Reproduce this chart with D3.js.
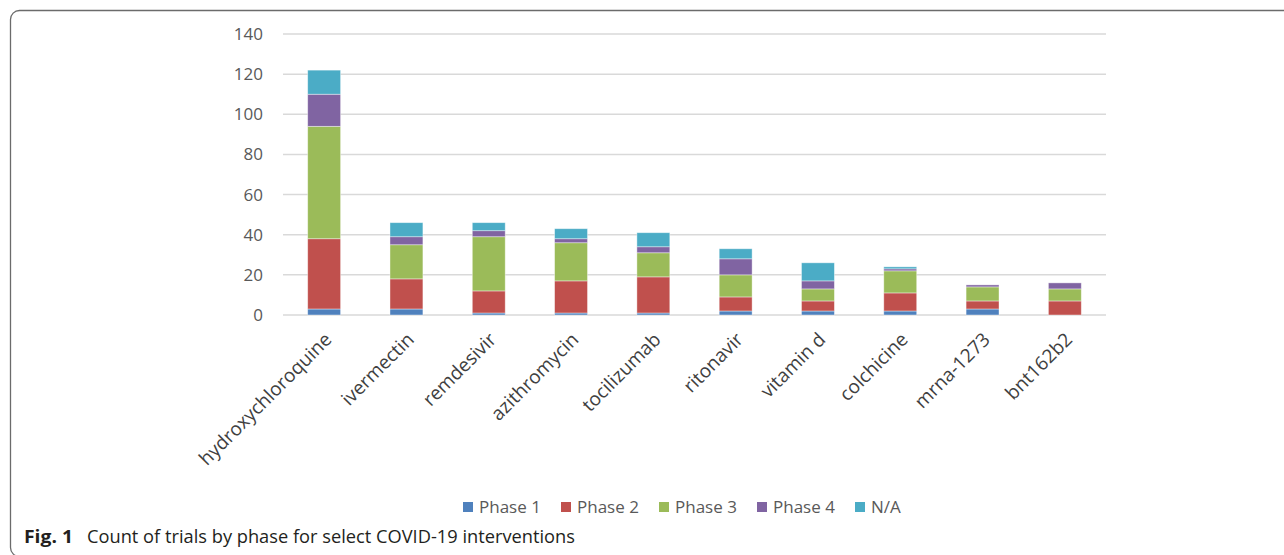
<!DOCTYPE html>
<html>
<head>
<meta charset="utf-8">
<script src="https://cdn.jsdelivr.net/npm/d3@7"></script>
<style>
  body { margin: 0; background: #fff; }
  svg { display: block; font-family: "Open Sans", "Noto Sans", sans-serif; }
</style>
</head>
<body>
<div id="holder"></div>
<script>
const w = 1284;
const h = 555;

// Data
const drugs = ["hydroxychloroquine", "ivermectin", "remdesivir", "azithromycin", "tocilizumab",
  "ritonavir", "vitamin d", "colchicine", "mrna-1273", "bnt162b2"];
const phases = ["Phase 1", "Phase 2", "Phase 3", "Phase 4", "N/A"];
const phase1 = [3, 3, 1, 1, 1, 2, 2, 2, 3, 0];
const phase2 = [35, 15, 11, 16, 18, 7, 5, 9, 4, 7];
const phase3 = [56, 17, 27, 19, 12, 11, 6, 11, 7, 6];
const phase4 = [16, 4, 3, 2, 3, 8, 4, 1, 1, 3];
const na = [12, 7, 4, 5, 7, 5, 9, 1, 0, 0];
const yTicks = [0, 20, 40, 60, 80, 100, 120, 140];

const colors = ["#4f81bd", "#c0504d", "#9bbb59", "#8064a2", "#4bacc6"];

const rows = drugs.map((d, i) => ({
  drug: d,
  "Phase 1": phase1[i],
  "Phase 2": phase2[i],
  "Phase 3": phase3[i],
  "Phase 4": phase4[i],
  "N/A": na[i]
}));

const svg = d3.select("#holder")
  .append("svg")
  .attr("width", w)
  .attr("height", h);

// frame around the figure
svg.append("rect")
  .attr("x", 10.5)
  .attr("y", 10.5)
  .attr("width", 1400)
  .attr("height", 546)
  .attr("rx", 9)
  .attr("fill", "none")
  .attr("stroke", "#6b6b6b")
  .attr("stroke-width", 1.3);

const x = d3.scaleBand()
  .domain(drugs)
  .range([283, 1106])
  .paddingInner(0.6)
  .paddingOuter(0.3);

const y = d3.scaleLinear()
  .domain([0, 140])
  .range([315, 34]);

// gridlines
svg.append("g")
  .selectAll("line")
  .data(yTicks)
  .join("line")
  .attr("x1", 283)
  .attr("x2", 1106)
  .attr("y1", d => y(d))
  .attr("y2", d => y(d))
  .attr("stroke", "#d9d9d9")
  .attr("stroke-width", 1.5);

// y axis labels
const yAxis = d3.axisLeft(y).tickValues(yTicks).tickSize(0).tickPadding(20);
svg.append("g")
  .attr("transform", "translate(283,0)")
  .call(yAxis)
  .call(g => g.select(".domain").remove())
  .selectAll("text")
  .attr("font-family", "'Open Sans', sans-serif")
  .attr("font-size", 17)
  .attr("fill", "#595959");

// stacked bars
const series = d3.stack().keys(phases)(rows);

svg.append("g")
  .selectAll("g")
  .data(series)
  .join("g")
  .attr("fill", (d, i) => colors[i])
  .selectAll("rect")
  .data(d => d.filter(s => s[1] > s[0]))
  .join("rect")
  .attr("x", d => x(d.data.drug))
  .attr("y", d => y(d[1]))
  .attr("width", x.bandwidth())
  .attr("height", d => y(d[0]) - y(d[1]))
  .attr("stroke", "#ffffff")
  .attr("stroke-opacity", 0.5)
  .attr("stroke-width", 0.8);

// x labels, rotated
const xAxis = d3.axisBottom(x).tickSize(0).tickPadding(0);
svg.append("g")
  .attr("transform", "translate(0,315)")
  .call(xAxis)
  .call(g => g.select(".domain").remove())
  .selectAll("text")
  .attr("font-family", "'Open Sans', sans-serif")
  .attr("font-size", 19)
  .attr("fill", "#404040")
  .attr("text-anchor", "end")
  .attr("dy", "0.35em")
  .attr("transform", "translate(4,21) rotate(-45)");

// legend
const legend = svg.append("g")
  .selectAll("g")
  .data(phases)
  .join("g")
  .attr("transform", (d, i) => `translate(${463 + i * 98},502)`);

legend.append("rect")
  .attr("width", 10)
  .attr("height", 10)
  .attr("fill", (d, i) => colors[i]);

legend.append("text")
  .attr("x", 16)
  .attr("y", 11)
  .attr("font-size", 17)
  .attr("fill", "#595959")
  .text(d => d);

// caption
svg.append("text")
  .attr("x", 24)
  .attr("y", 543)
  .attr("font-size", 18)
  .attr("font-weight", "bold")
  .attr("fill", "#231f20")
  .attr("textLength", 49)
  .attr("lengthAdjust", "spacingAndGlyphs")
  .text("Fig. 1");

svg.append("text")
  .attr("x", 87)
  .attr("y", 543)
  .attr("font-size", 18)
  .attr("fill", "#231f20")
  .attr("textLength", 488)
  .attr("lengthAdjust", "spacingAndGlyphs")
  .text("Count of trials by phase for select COVID-19 interventions");
</script>
</body>
</html>
